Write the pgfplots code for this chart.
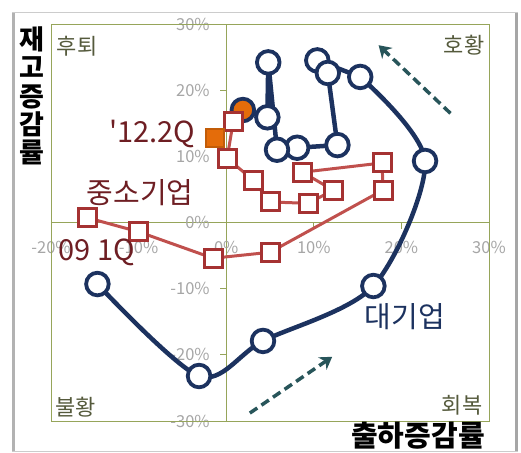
\documentclass[border=0pt]{standalone}
\usepackage{fontspec}
\setmainfont{Noto Sans CJK KR}
\usepackage{pgfplots}
\pgfplotsset{compat=1.18}
\usetikzlibrary{arrows.meta}
\definecolor{navy}{RGB}{28,50,95}
\definecolor{redline}{RGB}{192,80,77}
\definecolor{redmark}{RGB}{165,50,50}
\definecolor{orangec}{RGB}{228,108,10}
\definecolor{darkred}{RGB}{110,30,35}
\definecolor{arrowc}{RGB}{40,85,90}
\definecolor{olivec}{RGB}{150,165,90}
\definecolor{quadc}{RGB}{85,90,60}
\definecolor{tickgray}{RGB}{166,166,166}
\begin{document}
\begin{tikzpicture}
\draw[gray!40, line width=1pt] (-38pt,-30pt) rectangle (466pt,408pt);
\draw[gray!60, line width=3pt] (-37pt,-30pt) -- (-37pt,408pt);
\draw[gray!70, line width=3pt] (465pt,-30pt) -- (465pt,408pt);
\begin{axis}[
  at={(0,0)}, anchor=south west,
  width=438pt, height=397pt, scale only axis,
  xmin=-20, xmax=30, ymin=-30, ymax=30,
  axis lines=middle, axis line style={-, draw=olivec, line width=0.8pt},
  xtick={-20,-10,0,10,20,30}, ytick={-30,-20,-10,0,10,20,30},
  hide obscured x ticks=false, hide obscured y ticks=false,
  xticklabel={\pgfmathprintnumber{\tick}\%},
  yticklabel={\pgfmathprintnumber{\tick}\%},
  /pgf/number format/assume math mode=true,
  ticklabel style={font=\fontsize{16.5}{16.5}\selectfont, text=tickgray},
  xticklabel style={yshift=-9pt},
  yticklabel style={xshift=-7pt},
  tick style={draw=olivec, line width=0.8pt},
  major tick length=6pt, tick align=outside,
  clip=false,
]
\draw[olivec, line width=0.8pt] (rel axis cs:0,0) rectangle (rel axis cs:1,1);
% large firms
\addplot[navy, line width=4.5pt, smooth, tension=0.5, no marks] coordinates {
(-14.7,-9.3) (-3.1,-23.2) (4.2,-17.9) (16.8,-9.6) (22.7,9.3) (15.3,22.0)};
\addplot[navy, line width=4.5pt, no marks] coordinates {
(15.3,22.0) (10.4,24.5) (11.6,22.6) (12.7,11.7) (8.1,11.3) (5.8,11.0) (4.8,24.2) (4.7,15.9) (1.9,17.0)};
\addplot[only marks, mark=*, mark size=11.3pt, mark options={draw=navy, fill=white, line width=3.8pt}] coordinates {
(-14.7,-9.3) (-3.1,-23.2) (4.2,-17.9) (16.8,-9.6) (22.7,9.3) (15.3,22.0)
(10.4,24.5) (11.6,22.6) (12.7,11.7) (8.1,11.3) (5.8,11.0) (4.8,24.2) (4.7,15.9)};
\addplot[only marks, mark=*, mark size=11.3pt, mark options={draw=navy, fill=orangec, line width=3.8pt}] coordinates {(1.9,17.0)};
% SMEs
\addplot[redline, line width=3pt, no marks] coordinates {
(-15.8,0.7) (-10.0,-1.4) (-1.5,-5.4) (5.0,-4.5) (17.9,4.9) (17.8,9.0) (8.7,7.6) (12.2,4.9) (9.4,2.9) (5.0,3.1) (3.1,6.4) (0.1,9.7) (0.8,15.2) (-1.3,12.8)};
\addplot[only marks, mark=square*, mark size=9pt, mark options={draw=redmark, fill=white, line width=3pt}] coordinates {
(-15.8,0.7) (-10.0,-1.4) (-1.5,-5.4) (5.0,-4.5) (17.9,4.9) (17.8,9.0) (8.7,7.6) (12.2,4.9) (9.4,2.9) (5.0,3.1) (3.1,6.4) (0.1,9.7) (0.8,15.2)};
\addplot[only marks, mark=square*, mark size=9pt, mark options={draw=orangec!85!black, fill=orangec, line width=1.8pt}] coordinates {(-1.3,12.8)};
% arrows
\draw[arrowc, line width=3.5pt, dash pattern=on 9pt off 5pt, -{Stealth[length=12pt,width=15pt]}] (axis cs:25.6,16.5) -- (axis cs:17.4,26.8);
\draw[arrowc, line width=3.5pt, dash pattern=on 9pt off 5pt, -{Stealth[length=12pt,width=15pt]}] (axis cs:2.7,-28.8) -- (axis cs:12.1,-20.3);
\end{axis}
\node[font=\fontsize{27}{28.4}\selectfont\bfseries, align=center, inner sep=0pt] at (-19pt,325pt) {재\\고\\증\\감\\률};
\node[font=\fontsize{29}{29}\selectfont\bfseries, inner sep=0pt] at (367pt,-15pt) {출하증감률};
\node[font=\fontsize{22}{22}\selectfont, text=quadc, inner sep=0pt] at (26pt,375pt) {후퇴};
\node[font=\fontsize{22}{22}\selectfont, text=quadc, inner sep=0pt] at (413pt,376pt) {호황};
\node[font=\fontsize{22}{22}\selectfont, text=quadc, inner sep=0pt] at (25pt,14pt) {불황};
\node[font=\fontsize{22}{22}\selectfont, text=quadc, inner sep=0pt] at (411pt,16pt) {회복};
\node[font=\fontsize{29}{29}\selectfont, text=darkred, inner sep=0pt] at (101pt,287pt) {\textquotesingle12.2Q};
\node[font=\fontsize{29}{29}\selectfont, text=darkred, inner sep=0pt] at (89pt,228pt) {중소기업};
\node[font=\fontsize{29}{29}\selectfont, text=darkred, inner sep=0pt] at (46pt,169pt) {09 1Q};
\node[font=\fontsize{29}{29}\selectfont, text=navy, inner sep=0pt] at (354pt,104pt) {대기업};
\pgfresetboundingbox
\useasboundingbox (-51pt,-31pt) rectangle (470pt,421pt);
\end{tikzpicture}
\end{document}
